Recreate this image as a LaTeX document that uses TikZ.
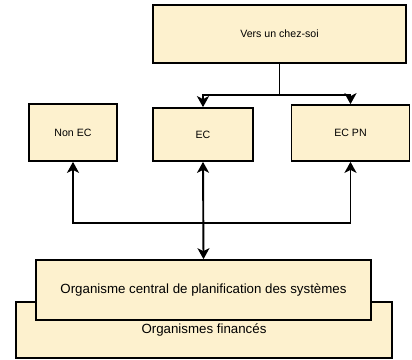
\documentclass[tikz,border=0pt]{standalone}
\usepackage{fontspec}
\setmainfont{Liberation Sans}
\usetikzlibrary{arrows.meta}
\definecolor{boxfill}{RGB}{253,241,206}
\tikzset{
  box/.style={draw=black, line width=1.7bp, fill=boxfill, rectangle, inner sep=0pt, align=center},
  smalltxt/.style={font=\fontsize{10.6bp}{12bp}\selectfont},
  bigtxt/.style={font=\fontsize{13.3bp}{16bp}\selectfont},
  conn/.style={line width=1.9bp, -{Stealth[length=11bp, width=12bp, inset=3bp]}},
  conn2/.style={line width=1.9bp, {Stealth[length=11bp, width=12bp, inset=3bp]}-{Stealth[length=11bp, width=12bp, inset=3bp]}},
  plain/.style={line width=1.9bp}
}
\begin{document}
\begin{tikzpicture}[x=1bp, y=-1bp]
\useasboundingbox (0,0) rectangle (412,360);
\node[box, smalltxt, minimum width=253bp, minimum height=58bp] (top) at (279.5,34) {Vers un chez-soi};
\node[box, smalltxt, minimum width=88bp, minimum height=57bp] (nonec) at (73,132.5) {Non EC};
\node[box, smalltxt, minimum width=100bp, minimum height=53bp] (ec) at (203,134.5) {EC};
\node[box, smalltxt, minimum width=118bp, minimum height=56bp] (ecpn) at (350.5,133) {EC PN};
\node[box, bigtxt, minimum width=376bp, minimum height=56bp] (fin) at (204,330) {};
\node[bigtxt] (fintxt) at (204,330) {Organismes financés};
\node[box, bigtxt, minimum width=335bp, minimum height=60bp] (central) at (203.5,290) {Organisme central de planification des systèmes};
\coordinate (j) at (top.south |- 0,95);
\coordinate (bus) at (ec.south |- 0,223);
\draw[plain] (top.south) -- (j);
\draw[conn] (j) -| (ec.north);
\draw[conn] (j) -| (ecpn.north);
\draw[conn2] (nonec.south) |- (bus) -| (ecpn.south);
\draw[conn2] (ec.south) -- (central.north);
\end{tikzpicture}
\end{document}
